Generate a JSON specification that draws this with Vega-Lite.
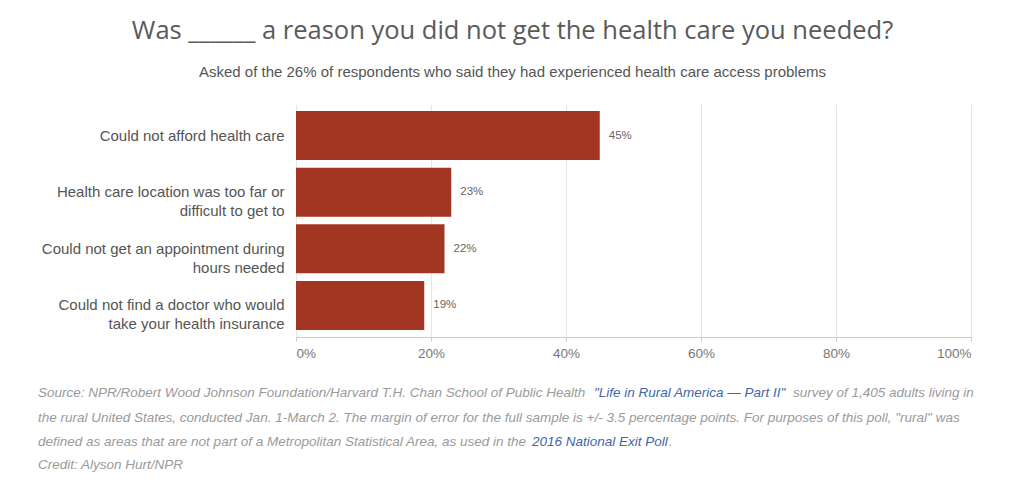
{
  "$schema": "https://vega.github.io/schema/vega-lite/v6.json",
  "autosize": {"type": "none"},
  "width": 675,
  "height": 233,
  "padding": {"left": 296, "top": 104, "right": 53, "bottom": 150},
  "background": "white",
  "title": {
    "text": "Was ______ a reason you did not get the health care you needed?",
    "subtitle": "Asked of the 26% of respondents who said they had experienced health care access problems",
    "anchor": "middle",
    "frame": "group",
    "dx": -121,
    "offset": 24,
    "font": "Open Sans",
    "fontSize": 25.5,
    "fontWeight": "normal",
    "color": "#5a5a5a",
    "subtitleFont": "Liberation Sans",
    "subtitleFontSize": 15,
    "subtitleColor": "#555555",
    "subtitlePadding": 21
  },
  "config": {
    "view": {"stroke": null},
    "font": "Liberation Sans"
  },
  "layer": [
    {
      "data": {
        "values": [
          {"reason": "Could not afford health care", "share": 0.45},
          {"reason": "Health care location was too far or|difficult to get to", "share": 0.23},
          {"reason": "Could not get an appointment during|hours needed", "share": 0.22},
          {"reason": "Could not find a doctor who would|take your health insurance", "share": 0.19}
        ]
      },
      "layer": [
        {
          "mark": {"type": "bar", "color": "#A33622"},
          "encoding": {
            "y": {
              "field": "reason",
              "type": "nominal",
              "sort": null,
              "scale": {"paddingInner": 0.136, "paddingOuter": 0.125},
              "axis": {
                "title": null,
                "ticks": false,
                "domain": false,
                "labelPadding": 12,
                "labelFontSize": 15,
                "labelColor": "#555555",
                "labelLineHeight": 19,
                "labelLimit": 300,
                "labelExpr": "split(datum.value, '|')"
              }
            },
            "x": {
              "field": "share",
              "type": "quantitative",
              "scale": {"domain": [0, 1]},
              "axis": {
                "title": null,
                "values": [0, 0.2, 0.4, 0.6, 0.8, 1],
                "format": ".0%",
                "labelFontSize": 13.5,
                "labelColor": "#777777",
                "labelPadding": 5,
                "tickSize": 4,
                "tickColor": "#cccccc",
                "domainColor": "#cccccc",
                "gridColor": "#e6e6e6",
                "grid": true
              }
            }
          }
        },
        {
          "mark": {"type": "text", "align": "left", "baseline": "middle", "dx": 9, "fontSize": 11.5, "color": "#666666"},
          "encoding": {
            "y": {"field": "reason", "type": "nominal", "sort": null},
            "x": {"field": "share", "type": "quantitative"},
            "text": {"field": "share", "type": "quantitative", "format": ".0%"}
          }
        }
      ]
    },
    {
      "data": {"values": [{}]},
      "layer": [
        {"mark": {"type": "text", "x": -258, "y": 289, "align": "left", "baseline": "middle", "fontSize": 13.5, "fontStyle": "italic", "color": "#9a9a9a", "text": "Source: NPR/Robert Wood Johnson Foundation/Harvard T.H. Chan School of Public Health"}, "encoding": {}},
        {"mark": {"type": "text", "x": 298, "y": 289, "align": "left", "baseline": "middle", "fontSize": 13.5, "fontStyle": "italic", "color": "#3f66a8", "text": "\"Life in Rural America — Part II\""}, "encoding": {}},
        {"mark": {"type": "text", "x": 497, "y": 289, "align": "left", "baseline": "middle", "fontSize": 13.5, "fontStyle": "italic", "color": "#9a9a9a", "text": "survey of 1,405 adults living in"}, "encoding": {}},
        {"mark": {"type": "text", "x": -258, "y": 314, "align": "left", "baseline": "middle", "fontSize": 13.5, "fontStyle": "italic", "color": "#9a9a9a", "text": "the rural United States, conducted Jan. 1-March 2. The margin of error for the full sample is +/- 3.5 percentage points. For purposes of this poll, \"rural\" was"}, "encoding": {}},
        {"mark": {"type": "text", "x": -258, "y": 338, "align": "left", "baseline": "middle", "fontSize": 13.5, "fontStyle": "italic", "color": "#9a9a9a", "text": "defined as areas that are not part of a Metropolitan Statistical Area, as used in the"}, "encoding": {}},
        {"mark": {"type": "text", "x": 236, "y": 338, "align": "left", "baseline": "middle", "fontSize": 13.5, "fontStyle": "italic", "color": "#3f66a8", "text": "2016 National Exit Poll"}, "encoding": {}},
        {"mark": {"type": "text", "x": 373, "y": 338, "align": "left", "baseline": "middle", "fontSize": 13.5, "fontStyle": "italic", "color": "#9a9a9a", "text": "."}, "encoding": {}},
        {"mark": {"type": "text", "x": -258, "y": 361, "align": "left", "baseline": "middle", "fontSize": 13.5, "fontStyle": "italic", "color": "#9a9a9a", "text": "Credit: Alyson Hurt/NPR"}, "encoding": {}}
      ]
    }
  ]
}
